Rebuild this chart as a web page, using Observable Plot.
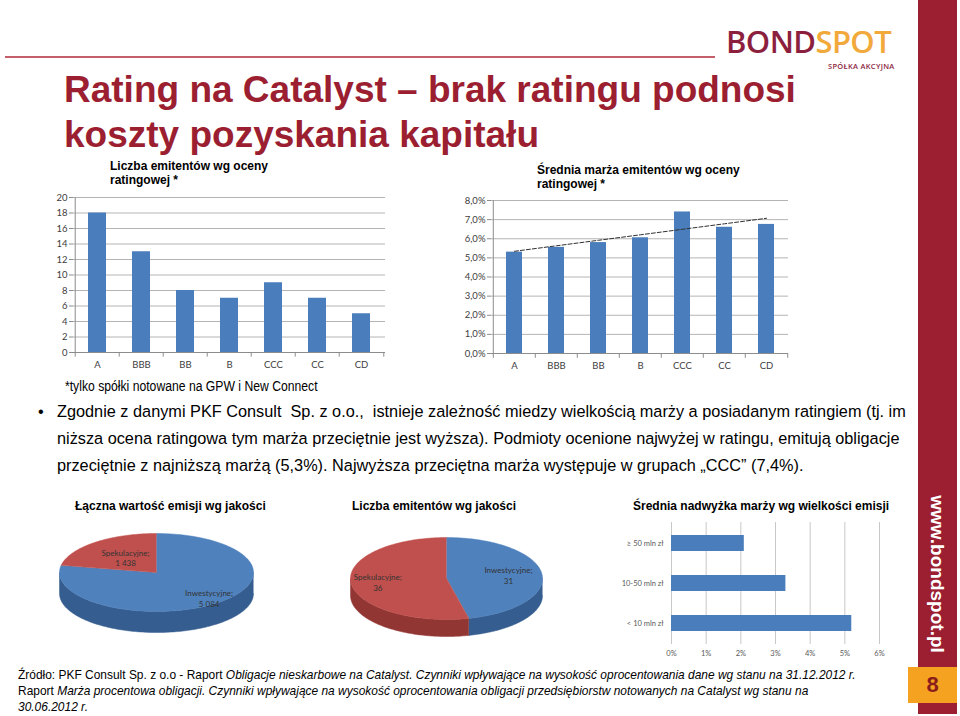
<!DOCTYPE html>
<html lang="pl">
<head>
<meta charset="utf-8">
<script src="https://cdn.jsdelivr.net/npm/d3@7"></script>
<script src="https://cdn.jsdelivr.net/npm/@observablehq/plot@0.6"></script>
<style>
html,body{margin:0;padding:0;background:#fff;}
body{width:960px;height:716px;position:relative;overflow:hidden;font-family:"Liberation Sans",Arial,sans-serif;color:#000;}
.a{position:absolute;white-space:nowrap;}
#topline{left:5px;top:56px;width:710px;height:2px;background:#c45e6a;}
#sidebar{left:918px;top:0;width:39px;height:714px;background:#9c1f31;}
#pagebox{left:908px;top:667px;width:49px;height:36px;background:#f4a21f;color:#8b1c1c;font-weight:bold;font-size:22px;text-align:center;line-height:36px;}
#url{left:937px;top:574px;transform:translate(-50%,-50%) rotate(90deg);color:#fff;font-weight:bold;font-size:19px;}
#logo{left:726px;top:20px;font-family:"Open Sans",sans-serif;font-weight:600;font-size:31px;line-height:42px;letter-spacing:-0.6px;}
#logo .b{color:#8c1f3e;} #logo .s{color:#f2a93b;}
#logosub{left:828px;top:61px;font-family:"Open Sans",sans-serif;font-size:7.5px;font-weight:600;color:#8c1f3e;letter-spacing:0.3px;}
#title{left:64px;top:67px;font-size:37px;line-height:45px;font-weight:bold;color:#9b1f31;}
.sub{font-size:12px;line-height:14px;font-weight:bold;}
#note{left:65px;top:378px;font-size:14px;transform:scaleX(0.87);transform-origin:0 0;}
#bullet{left:38px;top:398px;font-size:16.3px;line-height:27px;}
#bullet .t{position:absolute;left:19px;top:0;}
.h{font-size:12px;font-weight:bold;line-height:14px;}
#footer{left:18px;top:667px;font-size:13.5px;line-height:16px;transform:scaleX(0.885);transform-origin:0 0;}
.chart{position:absolute;}
</style>
</head>
<body>
<div id="topline" class="a"></div>
<div id="sidebar" class="a"></div>
<div id="url" class="a">www.bondspot.pl</div>
<div id="pagebox" class="a">8</div>
<div id="logo" class="a"><span class="b">BOND</span><span class="s">SPOT</span></div>
<div id="logosub" class="a">SPÓŁKA AKCYJNA</div>
<div id="title" class="a">Rating na Catalyst – brak ratingu podnosi<br>koszty pozyskania kapitału</div>
<div class="a sub" style="left:110px;top:159px;">Liczba emitentów wg oceny<br>ratingowej *</div>
<div class="a sub" style="left:537px;top:163px;">Średnia marża emitentów wg oceny<br>ratingowej *</div>
<div id="c1" class="chart" style="left:40px;top:185px;"></div>
<div id="c2" class="chart" style="left:450px;top:185px;"></div>
<div id="note" class="a">*tylko spółki notowane na GPW i New Connect</div>
<div id="bullet" class="a">•<div class="t">Zgodnie z danymi PKF Consult&nbsp; Sp. z o.o.,&nbsp; istnieje zależność miedzy wielkością marży a posiadanym ratingiem (tj. im<br>niższa ocena ratingowa tym marża przeciętnie jest wyższa). Podmioty ocenione najwyżej w ratingu, emitują obligacje<br>przeciętnie z najniższą marżą (5,3%). Najwyższa przeciętna marża występuje w grupach „CCC” (7,4%).</div></div>
<div class="a h" style="left:75px;top:499px;">Łączna wartość emisji wg jakości</div>
<div class="a h" style="left:352px;top:499px;">Liczba emitentów wg jakości</div>
<div class="a h" style="left:633px;top:499px;">Średnia nadwyżka marży wg wielkości emisji</div>
<div id="c3" class="chart"></div>
<div id="c4" class="chart"></div>
<div id="c5" class="chart" style="left:590px;top:515px;"></div>
<div id="footer" class="a">Źródło: PKF Consult Sp. z o.o - Raport <i>Obligacje nieskarbowe na Catalyst. Czynniki wpływające na wysokość oprocentowania dane wg stanu na 31.12.2012 r.</i><br>Raport <i>Marża procentowa obligacji. Czynniki wpływające na wysokość oprocentowania obligacji przedsiębiorstw notowanych na Catalyst wg stanu na</i><br><i>30.06.2012 r.</i></div>
<script>
// ---- data ----
const ratings = ["A", "BBB", "BB", "B", "CCC", "CC", "CD"];
const issuerCounts = [18, 13, 8, 7, 9, 7, 5];
const avgMargins = [5.3, 5.55, 5.8, 6.05, 7.4, 6.6, 6.75];
const countTicks = [0, 2, 4, 6, 8, 10, 12, 14, 16, 18, 20];
const marginTicks = [0, 1, 2, 3, 4, 5, 6, 7, 8];
const qualityGroups = ["Inwestycyjne", "Spekulacyjne"];
const issueValue = [5084, 1438];
const issuerByQuality = [31, 36];
const sizeClasses = ["≥ 50 mln zł", "10-50 mln zł", "< 10 mln zł"];
const excessMargin = [2.1, 3.3, 5.2];
const excessTicks = [0, 1, 2, 3, 4, 5, 6];

const BLUE = "#4a7dbb", RED = "#c0504d";
const plLocale = d3.formatLocale({decimal: ",", thousands: " ", grouping: [3], currency: ["", " zł"]});
const fmtInt = plLocale.format(",");
const fmtPct1 = plLocale.format(".1f");

// ---- chart 1: issuers by rating ----
{
  const W = 350, H = 195, ml = 33, mr = 5, mt = 12, mb = 28;
  const step = (W - ml - mr) / ratings.length;
  const data = ratings.map((r, i) => ({rating: r, value: issuerCounts[i]}));
  const chart = Plot.plot({
    width: W, height: H, marginLeft: ml, marginRight: mr, marginTop: mt, marginBottom: mb,
    style: {fontFamily: "Lato, sans-serif", fontSize: "9.5px", color: "#404040", background: "transparent"},
    x: {domain: ratings, paddingInner: 0.6, paddingOuter: 0.3, label: null},
    y: {domain: [0, 20], label: null},
    marks: [
      Plot.gridY(countTicks.slice(1), {stroke: "#b4b4b4", strokeOpacity: 1}),
      Plot.axisY(countTicks, {tickSize: 4, tickPadding: 2, stroke: "#8c8c8c", label: null}),
      Plot.axisX({tickSize: 0, tickPadding: 9, label: null}),
      Plot.barY(data, {x: "rating", y: "value", fill: BLUE}),
      Plot.ruleX([ratings[0]], {y1: 0, y2: 20, dx: -step / 2, stroke: "#8c8c8c"}),
      Plot.ruleY([0], {stroke: "#8c8c8c"}),
      Plot.ruleX(ratings, {y1: 0, y2: -0.6, dx: -step / 2, stroke: "#8c8c8c"}),
      Plot.ruleX([ratings[ratings.length - 1]], {y1: 0, y2: -0.6, dx: step / 2, stroke: "#8c8c8c"})
    ]
  });
  document.getElementById("c1").append(chart);
}

// ---- chart 2: average margin by rating, with linear trend ----
{
  const W = 345, H = 195, ml = 41, mr = 7, mt = 15, mb = 27;
  const step = (W - ml - mr) / ratings.length;
  const data = ratings.map((r, i) => ({rating: r, value: avgMargins[i], idx: i + 1}));
  const mx = d3.mean(data, d => d.idx), my = d3.mean(data, d => d.value);
  const slope = d3.sum(data, d => (d.idx - mx) * (d.value - my)) / d3.sum(data, d => (d.idx - mx) ** 2);
  const trend = data.map(d => ({rating: d.rating, value: my + slope * (d.idx - mx)}));
  const chart = Plot.plot({
    width: W, height: H, marginLeft: ml, marginRight: mr, marginTop: mt, marginBottom: mb,
    style: {fontFamily: "Lato, sans-serif", fontSize: "9.5px", color: "#404040", background: "transparent"},
    x: {domain: ratings, paddingInner: 0.62, paddingOuter: 0.31, label: null},
    y: {domain: [0, 8], label: null},
    marks: [
      Plot.gridY(marginTicks.slice(1), {stroke: "#b4b4b4", strokeOpacity: 1}),
      Plot.axisY(marginTicks, {tickSize: 4, tickPadding: 2, stroke: "#8c8c8c", tickFormat: d => fmtPct1(d) + "%", label: null}),
      Plot.axisX({tickSize: 0, tickPadding: 9, label: null}),
      Plot.barY(data, {x: "rating", y: "value", fill: BLUE}),
      Plot.ruleX([ratings[0]], {y1: 0, y2: 8, dx: -step / 2, stroke: "#8c8c8c"}),
      Plot.ruleY([0], {stroke: "#8c8c8c"}),
      Plot.ruleX(ratings, {y1: 0, y2: -0.25, dx: -step / 2, stroke: "#8c8c8c"}),
      Plot.ruleX([ratings[ratings.length - 1]], {y1: 0, y2: -0.25, dx: step / 2, stroke: "#8c8c8c"}),
      Plot.line(trend, {x: "rating", y: "value", stroke: "#303030", strokeWidth: 1, strokeDasharray: "4,2"})
    ]
  });
  document.getElementById("c2").append(chart);
}

// ---- 3D pies ----
function pieChart(el, cx, cy, values, labels, rx, ry, depth, labelR) {
  const total = d3.sum(values);
  const tops = [], sides = [], lab = [];
  let a0 = 0;
  values.forEach((v, i) => {
    const a1 = a0 + 2 * Math.PI * v / total;
    const n = Math.max(4, Math.ceil((a1 - a0) / 0.02));
    const top = [{px: 0, py: 0}];
    for (let j = 0; j <= n; j++) { const t = a0 + (a1 - a0) * j / n; top.push({px: rx * Math.sin(t), py: -ry * Math.cos(t)}); }
    tops.push(top);
    const s0 = Math.max(a0, Math.PI / 2), s1 = Math.min(a1, 3 * Math.PI / 2);
    if (s1 > s0) {
      const m = Math.max(2, Math.ceil((s1 - s0) / 0.02)), side = [];
      for (let j = 0; j <= m; j++) { const t = s0 + (s1 - s0) * j / m; side.push({px: rx * Math.sin(t), py: -ry * Math.cos(t)}); }
      for (let j = m; j >= 0; j--) { const t = s0 + (s1 - s0) * j / m; side.push({px: rx * Math.sin(t), py: -ry * Math.cos(t) + depth}); }
      sides.push({i, side});
    }
    const mid = (a0 + a1) / 2;
    lab.push({px: labelR[i] * rx * Math.sin(mid), py: -labelR[i] * ry * Math.cos(mid), text: labels[i] + ";\n" + fmtInt(v)});
    a0 = a1;
  });
  const W = 2 * rx + 8, H = 2 * ry + depth + 8;
  const fills = ["#4f81bd", RED], sideFills = ["#355d8f", "#923634"];
  const chart = Plot.plot({
    width: W, height: H, margin: 0,
    style: {fontFamily: "Lato, sans-serif", background: "transparent"},
    x: {domain: [-W / 2, W / 2], range: [0, W], axis: null},
    y: {domain: [-ry - 4, ry + depth + 4], range: [0, H], axis: null},
    marks: [
      ...sides.map(s => Plot.line(s.side, {x: "px", y: "py", fill: sideFills[s.i], stroke: sideFills[s.i], strokeWidth: 0.5})),
      ...tops.map((t, i) => Plot.line(t, {x: "px", y: "py", fill: fills[i], stroke: fills[i], strokeWidth: 0.5})),
      Plot.text(lab, {x: "px", y: "py", text: "text", fill: "#333", fontSize: 8, lineHeight: 1.35})
    ]
  });
  el.style.left = (cx - W / 2) + "px";
  el.style.top = (cy - ry - 4) + "px";
  el.append(chart);
}
pieChart(document.getElementById("c3"), 156, 572, issueValue, qualityGroups, 97, 39, 21, [0.85, 0.5]);
pieChart(document.getElementById("c4"), 446, 578, issuerByQuality, qualityGroups, 96, 41, 17, [0.65, 0.72]);

// ---- chart 5: excess margin by issue size ----
{
  const data = sizeClasses.map((s, i) => ({size: s, value: excessMargin[i]}));
  const chart = Plot.plot({
    width: 300, height: 150, marginLeft: 81, marginRight: 11, marginTop: 7, marginBottom: 21,
    style: {fontFamily: "Lato, sans-serif", fontSize: "7.5px", color: "#595959", background: "transparent"},
    x: {domain: [0, 6], label: null},
    y: {domain: sizeClasses, paddingInner: 0.6, paddingOuter: 0.3, label: null},
    marks: [
      Plot.gridX(excessTicks, {stroke: "#c8c8c8", strokeOpacity: 1}),
      Plot.axisX(excessTicks, {tickSize: 0, tickPadding: 6, tickFormat: d => d + "%", label: null}),
      Plot.axisY({tickSize: 0, tickPadding: 8, label: null}),
      Plot.barX(data, {y: "size", x: "value", fill: BLUE})
    ]
  });
  document.getElementById("c5").append(chart);
}
</script>
</body>
</html>
